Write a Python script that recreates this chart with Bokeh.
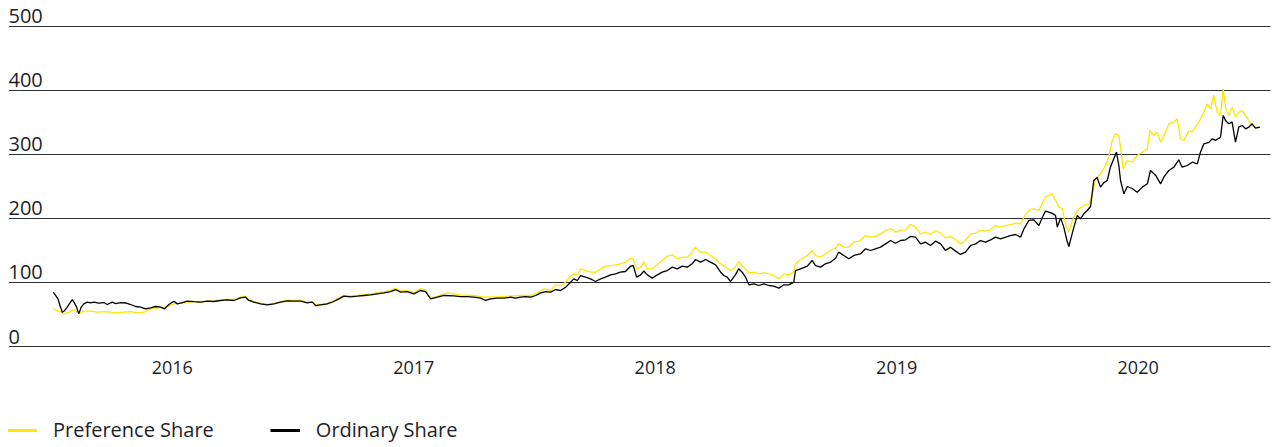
from bokeh.plotting import figure
from bokeh.layouts import column
from bokeh.models import Range1d, FixedTicker, Legend, LegendItem, ColumnDataSource
from bokeh.core.properties import value
from bokeh.embed import file_html
from bokeh.resources import INLINE

# ---------------- data (decimal years, share price) ----------------
pref_t = [2016.007, 2016.031, 2016.051, 2016.072, 2016.093, 2016.113, 2016.134, 2016.162, 2016.190, 2016.217,
          2016.245, 2016.272, 2016.300, 2016.328, 2016.355, 2016.383, 2016.410, 2016.431, 2016.468, 2016.486,
          2016.507, 2016.535, 2016.562, 2016.590, 2016.617, 2016.645, 2016.672, 2016.700, 2016.728, 2016.755,
          2016.783, 2016.804, 2016.817, 2016.838, 2016.866, 2016.894, 2016.921, 2016.949, 2016.976, 2017.004,
          2017.032, 2017.059, 2017.080, 2017.094, 2017.114, 2017.142, 2017.169, 2017.190, 2017.211, 2017.239,
          2017.266, 2017.294, 2017.321, 2017.349, 2017.377, 2017.404, 2017.425, 2017.446, 2017.473, 2017.501,
          2017.528, 2017.549, 2017.570, 2017.598, 2017.611, 2017.639, 2017.694, 2017.749, 2017.790, 2017.860,
          2017.942, 2017.984, 2018.012, 2018.039, 2018.067, 2018.088, 2018.108, 2018.129, 2018.150, 2018.163,
          2018.177, 2018.191, 2018.212, 2018.232, 2018.253, 2018.274, 2018.294, 2018.315, 2018.336, 2018.356,
          2018.377, 2018.398, 2018.409, 2018.423, 2018.440, 2018.453, 2018.467, 2018.488, 2018.509, 2018.529,
          2018.550, 2018.571, 2018.591, 2018.612, 2018.633, 2018.653, 2018.667, 2018.688, 2018.709, 2018.729,
          2018.750, 2018.771, 2018.791, 2018.812, 2018.832, 2018.846, 2018.860, 2018.874, 2018.888, 2018.909,
          2018.929, 2018.950, 2018.971, 2018.991, 2019.012, 2019.033, 2019.053, 2019.074, 2019.081, 2019.102,
          2019.130, 2019.150, 2019.164, 2019.185, 2019.205, 2019.226, 2019.247, 2019.260, 2019.281, 2019.302,
          2019.323, 2019.350, 2019.371, 2019.392, 2019.412, 2019.433, 2019.454, 2019.475, 2019.495, 2019.516,
          2019.537, 2019.557, 2019.578, 2019.599, 2019.620, 2019.640, 2019.661, 2019.682, 2019.702, 2019.723,
          2019.744, 2019.764, 2019.785, 2019.806, 2019.827, 2019.847, 2019.868, 2019.889, 2019.909, 2019.930,
          2019.951, 2019.971, 2019.992, 2020.013, 2020.027, 2020.047, 2020.068, 2020.089, 2020.103, 2020.116,
          2020.144, 2020.158, 2020.172, 2020.186, 2020.199, 2020.213, 2020.227, 2020.241, 2020.254, 2020.275,
          2020.296, 2020.310, 2020.323, 2020.344, 2020.365, 2020.379, 2020.393, 2020.406, 2020.420, 2020.427,
          2020.438, 2020.455, 2020.475, 2020.496, 2020.517, 2020.538, 2020.548, 2020.565, 2020.579, 2020.593,
          2020.613, 2020.627, 2020.648, 2020.662, 2020.675, 2020.689, 2020.710, 2020.724, 2020.737, 2020.751,
          2020.772, 2020.786, 2020.800, 2020.813, 2020.827, 2020.841, 2020.852, 2020.862, 2020.875, 2020.889,
          2020.903, 2020.917, 2020.931, 2020.945, 2020.958, 2020.972, 2020.986, 2021.004]
pref_v = [58.9, 55.2, 51.0, 53.6, 57.3, 52.0, 55.2, 55.2, 53.6, 54.6,
          53.6, 52.6, 53.6, 54.6, 52.6, 53.6, 58.9, 60.0, 61.5, 64.0,
          66.6, 67.7, 68.7, 70.5, 69.0, 71.5, 71.0, 72.5, 74.0, 73.0,
          77.5, 78.5, 73.0, 70.5, 67.5, 66.0, 67.5, 70.0, 72.5, 72.0,
          72.5, 69.5, 70.5, 65.5, 66.0, 67.5, 71.5, 76.0, 80.0, 79.0,
          80.0, 81.0, 82.0, 84.0, 85.5, 87.5, 91.0, 87.0, 87.5, 84.0,
          90.5, 88.0, 76.0, 78.5, 80.7, 83.9, 80.7, 79.7, 77.0, 78.0,
          79.7, 79.7, 83.9, 90.0, 87.5, 96.3, 95.0, 100.5, 109.9, 113.5,
          110.9, 121.3, 119.0, 116.1, 116.0, 121.3, 125.5, 126.5, 127.6, 129.2,
          131.8, 138.0, 137.0, 121.3, 124.0, 132.8, 121.4, 121.4, 127.6, 134.4,
          141.1, 143.2, 136.9, 139.6, 139.6, 147.4, 155.2, 147.4, 147.4, 142.2,
          137.0, 129.2, 124.0, 118.7, 124.0, 132.8, 126.6, 121.4, 115.1, 116.1,
          113.5, 115.1, 113.5, 110.9, 105.7, 113.5, 112.0, 116.1, 129.2, 135.9,
          142.2, 150.0, 142.2, 139.6, 144.8, 150.0, 153.6, 160.4, 155.2, 155.0,
          163.0, 165.6, 173.4, 170.8, 171.9, 176.0, 181.3, 183.9, 178.6, 181.3,
          182.3, 190.6, 186.5, 176.0, 178.6, 175.0, 181.3, 177.1, 169.8, 171.9,
          166.7, 160.4, 165.6, 176.0, 177.1, 181.3, 180.2, 182.3, 189.0, 186.5,
          189.0, 190.6, 192.7, 191.7, 202.0, 212.5, 215.0, 212.5, 224.0, 233.3,
          238.6, 228.2, 217.7, 215.0, 191.7, 178.6, 196.9, 207.3, 215.0, 220.3,
          223.0, 235.9, 262.0, 269.8, 282.8, 296.9, 321.9, 332.3, 329.7, 311.4,
          277.6, 290.6, 288.0, 298.4, 303.6, 308.9, 337.5, 329.7, 334.9, 319.3,
          334.9, 348.0, 350.6, 355.7, 324.5, 321.9, 337.5, 334.9, 342.7, 350.5,
          366.1, 379.2, 371.4, 392.2, 366.1, 361.0, 402.6, 374.0, 361.0, 374.0,
          358.4, 366.1, 368.7, 361.0, 353.2, 345.3, 342.7, 341.7]

ord_t = [2016.007, 2016.017, 2016.027, 2016.035, 2016.045, 2016.054, 2016.065, 2016.076, 2016.086, 2016.093,
         2016.104, 2016.113, 2016.123, 2016.134, 2016.148, 2016.162, 2016.176, 2016.196, 2016.217, 2016.231,
         2016.252, 2016.265, 2016.286, 2016.307, 2016.328, 2016.348, 2016.369, 2016.390, 2016.410, 2016.431,
         2016.452, 2016.468, 2016.486, 2016.507, 2016.521, 2016.542, 2016.562, 2016.590, 2016.617, 2016.645,
         2016.672, 2016.700, 2016.728, 2016.755, 2016.783, 2016.804, 2016.817, 2016.838, 2016.866, 2016.894,
         2016.921, 2016.949, 2016.976, 2017.004, 2017.032, 2017.059, 2017.080, 2017.094, 2017.114, 2017.142,
         2017.169, 2017.190, 2017.211, 2017.239, 2017.266, 2017.294, 2017.321, 2017.349, 2017.377, 2017.404,
         2017.425, 2017.446, 2017.473, 2017.501, 2017.528, 2017.549, 2017.570, 2017.598, 2017.625, 2017.666,
         2017.694, 2017.722, 2017.749, 2017.777, 2017.798, 2017.818, 2017.846, 2017.873, 2017.901, 2017.922,
         2017.942, 2017.963, 2017.984, 2018.005, 2018.026, 2018.046, 2018.067, 2018.088, 2018.108, 2018.129,
         2018.150, 2018.163, 2018.177, 2018.191, 2018.212, 2018.232, 2018.253, 2018.274, 2018.294, 2018.315,
         2018.336, 2018.356, 2018.377, 2018.398, 2018.409, 2018.423, 2018.440, 2018.453, 2018.467, 2018.488,
         2018.509, 2018.529, 2018.550, 2018.571, 2018.591, 2018.612, 2018.633, 2018.653, 2018.667, 2018.688,
         2018.709, 2018.729, 2018.750, 2018.771, 2018.784, 2018.798, 2018.812, 2018.832, 2018.846, 2018.860,
         2018.874, 2018.888, 2018.909, 2018.929, 2018.950, 2018.971, 2018.991, 2019.012, 2019.033, 2019.053,
         2019.074, 2019.081, 2019.102, 2019.130, 2019.150, 2019.164, 2019.185, 2019.205, 2019.226, 2019.247,
         2019.260, 2019.281, 2019.302, 2019.323, 2019.350, 2019.371, 2019.392, 2019.412, 2019.433, 2019.454,
         2019.475, 2019.495, 2019.516, 2019.537, 2019.557, 2019.578, 2019.599, 2019.620, 2019.640, 2019.661,
         2019.682, 2019.702, 2019.723, 2019.744, 2019.764, 2019.785, 2019.806, 2019.827, 2019.847, 2019.868,
         2019.889, 2019.909, 2019.930, 2019.951, 2019.971, 2019.992, 2020.013, 2020.027, 2020.047, 2020.068,
         2020.089, 2020.103, 2020.116, 2020.130, 2020.144, 2020.158, 2020.165, 2020.179, 2020.192, 2020.205,
         2020.213, 2020.223, 2020.234, 2020.248, 2020.261, 2020.275, 2020.289, 2020.303, 2020.316, 2020.330,
         2020.344, 2020.358, 2020.372, 2020.385, 2020.399, 2020.410, 2020.420, 2020.427, 2020.441, 2020.455,
         2020.475, 2020.496, 2020.517, 2020.538, 2020.551, 2020.572, 2020.593, 2020.606, 2020.627, 2020.648,
         2020.668, 2020.682, 2020.703, 2020.724, 2020.745, 2020.758, 2020.772, 2020.793, 2020.807, 2020.820,
         2020.841, 2020.852, 2020.862, 2020.875, 2020.889, 2020.903, 2020.917, 2020.931, 2020.945, 2020.958,
         2020.972, 2020.986, 2021.004]
ord_v = [84.9, 79.7, 74.5, 64.0, 53.6, 56.0, 61.5, 67.7, 73.4, 69.3,
         61.5, 51.0, 61.5, 66.6, 69.3, 68.0, 69.3, 67.7, 68.7, 65.6,
         69.3, 67.0, 68.7, 68.0, 65.6, 62.5, 61.5, 58.9, 60.4, 62.5,
         61.5, 58.9, 65.6, 70.8, 66.6, 68.7, 70.8, 70.0, 69.3, 70.8,
         70.3, 71.9, 73.0, 71.9, 76.0, 77.0, 71.9, 69.3, 66.6, 65.1,
         66.6, 69.3, 71.4, 70.8, 71.0, 68.2, 69.3, 64.0, 65.1, 66.6,
         70.3, 74.5, 78.6, 77.6, 78.6, 79.7, 80.7, 82.3, 83.9, 85.9,
         89.0, 85.0, 85.9, 82.3, 87.5, 85.9, 74.5, 77.0, 79.7, 79.0,
         78.0, 78.0, 77.0, 75.5, 71.9, 74.5, 75.5, 75.5, 77.0, 75.5,
         77.0, 78.0, 77.0, 79.7, 83.9, 85.9, 84.9, 89.0, 87.5, 92.7,
         100.5, 105.7, 103.1, 110.9, 108.3, 105.7, 101.6, 105.7, 108.3, 112.0,
         113.5, 116.1, 117.2, 125.5, 126.5, 108.3, 112.0, 118.0, 112.0, 106.8,
         112.0, 116.1, 118.7, 124.0, 121.4, 125.5, 124.0, 129.2, 135.9, 131.8,
         135.9, 131.8, 127.6, 116.1, 110.9, 108.3, 101.6, 112.0, 121.4, 116.1,
         108.3, 96.4, 97.9, 95.3, 97.9, 95.3, 94.3, 91.2, 96.4, 96.4,
         100.5, 118.7, 121.4, 125.5, 134.4, 126.5, 124.0, 129.2, 131.8, 138.0,
         147.4, 142.2, 137.0, 142.2, 144.8, 152.6, 150.0, 152.6, 155.2, 160.4,
         165.6, 161.4, 165.6, 166.7, 171.9, 170.8, 160.4, 163.0, 157.8, 164.6,
         160.4, 150.0, 155.2, 149.0, 143.8, 147.4, 157.8, 160.4, 165.6, 163.0,
         166.7, 170.8, 168.2, 170.8, 173.4, 175.0, 170.8, 183.9, 196.9, 197.9,
         189.0, 201.5, 211.5, 210.0, 208.0, 204.7, 186.5, 201.0, 186.5, 165.6,
         156.3, 170.8, 186.5, 204.7, 199.5, 207.3, 212.5, 218.7, 259.4, 264.0,
         249.0, 256.0, 259.4, 280.2, 293.2, 303.6, 282.8, 259.4, 238.6, 250.0,
         246.9, 241.1, 249.0, 254.2, 275.0, 267.7, 254.2, 264.5, 275.0, 280.2,
         291.7, 280.2, 282.8, 288.0, 285.4, 303.6, 316.7, 319.0, 324.5, 322.0,
         327.0, 361.0, 353.2, 348.0, 350.6, 319.2, 343.2, 345.3, 340.1, 342.7,
         347.9, 341.1, 342.7]

y_ticks = [0, 100, 200, 300, 400, 500]
y_labels = ["0", "100", "200", "300", "400", "500"]
x_ticks = [2016.5, 2017.5, 2018.5, 2019.5, 2020.5]
x_labels = ["2016", "2017", "2018", "2019", "2020"]
series_names = ["Preference Share", "Ordinary Share"]
series_colors = ["#FFE600", "#000000"]

FONT = "Open Sans"
TEXT = "#1e1e26"

X0, X1 = 2015.822, 2021.048
p = figure(width=1274, height=392, output_backend="svg", toolbar_location=None,
           x_range=Range1d(X0, X1), y_range=Range1d(-1.56, 528.1),
           y_axis_location=None, min_border_left=8, min_border_right=4,
           min_border_top=8, min_border_bottom=45)
p.outline_line_color = None
p.background_fill_color = "white"
p.border_fill_color = "white"
p.xgrid.grid_line_color = None
p.ygrid.ticker = FixedTicker(ticks=y_ticks)
p.ygrid.grid_line_color = "#2e2e38"
p.ygrid.grid_line_width = 1

ax = p.xaxis[0]
ax.ticker = FixedTicker(ticks=x_ticks)
ax.major_label_overrides = dict(zip(x_ticks, x_labels))
ax.axis_line_color = None
ax.major_tick_line_color = None
ax.minor_tick_line_color = None
ax.major_tick_out = 0
ax.major_tick_in = 0
ax.major_label_standoff = 13
ax.major_label_text_font = FONT
ax.major_label_text_font_size = "18px"
ax.major_label_text_color = TEXT

src_y = ColumnDataSource(dict(x=[X0] * len(y_ticks), y=y_ticks, t=y_labels))
p.text(x="x", y="y", text="t", source=src_y, text_font=value(FONT), text_font_size="20px",
       text_color=TEXT, text_baseline="bottom", text_align="left", y_offset=-3)

p.line(pref_t, pref_v, line_color=series_colors[0], line_width=1.3)
p.line(ord_t, ord_v, line_color=series_colors[1], line_width=1.3)

# ---------------- legend strip (series drawn outside its view, only the swatches show) ----------------
pl = figure(width=1274, height=55, output_backend="svg", toolbar_location=None,
            x_range=Range1d(0, 1), y_range=Range1d(0, 1),
            x_axis_location=None, y_axis_location=None,
            min_border_left=0, min_border_right=0, min_border_top=0, min_border_bottom=0)
pl.outline_line_color = None
pl.xgrid.grid_line_color = None
pl.ygrid.grid_line_color = None
r_leg0 = pl.line(pref_t, pref_v, line_color=series_colors[0], line_width=3)
r_leg1 = pl.line(ord_t, ord_v, line_color=series_colors[1], line_width=3)
legend = Legend(items=[LegendItem(label=series_names[0], renderers=[r_leg0]),
                       LegendItem(label=series_names[1], renderers=[r_leg1])],
                orientation="horizontal", location=(-1, 4),
                glyph_width=30, glyph_height=20, label_standoff=16, spacing=56,
                padding=0, margin=0, border_line_color=None, background_fill_alpha=0,
                label_text_font=FONT, label_text_font_size="20px", label_text_color=TEXT)
pl.add_layout(legend, "center")

open("out.html", "w").write(file_html(column(p, pl, spacing=0), INLINE))
